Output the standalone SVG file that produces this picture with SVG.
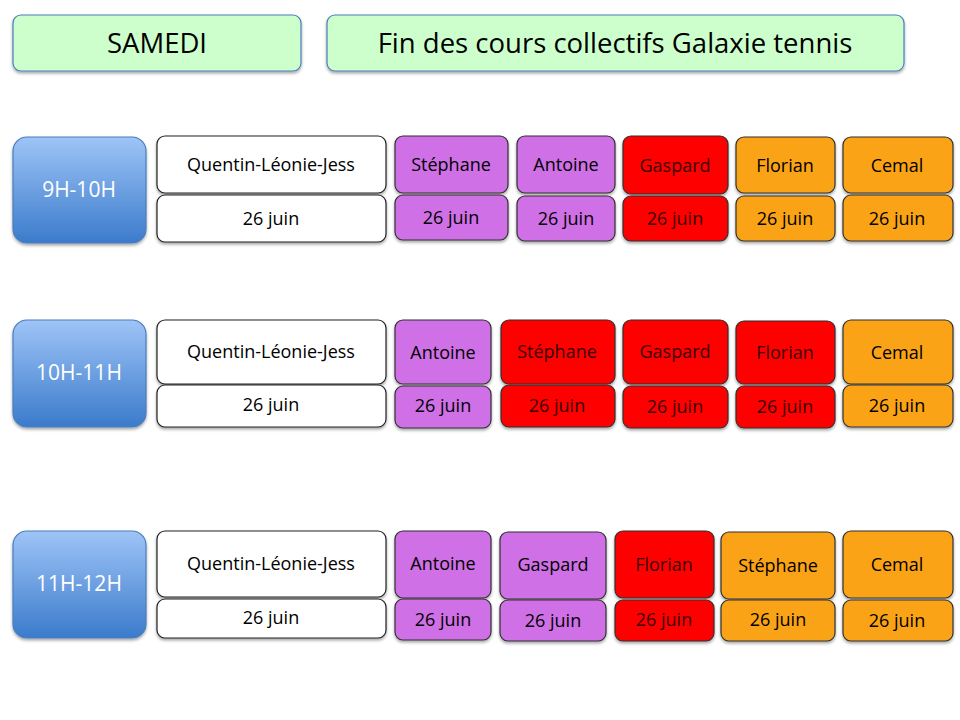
<svg xmlns="http://www.w3.org/2000/svg" width="960" height="720" viewBox="0 0 960 720">
<defs>
<linearGradient id="tg" x1="0" y1="0" x2="0" y2="1">
<stop offset="0" stop-color="#9ec4f7"/>
<stop offset="1" stop-color="#3b7bcb"/>
</linearGradient>
<filter id="sh" x="-10%" y="-10%" width="130%" height="140%">
<feDropShadow dx="0" dy="2" stdDeviation="1.5" flood-color="#000" flood-opacity="0.35"/>
</filter>
</defs>
<style>
rect{filter:url(#sh);stroke-width:1.2}
.hd{fill:#ccffcc;stroke:#4a7ebb}
.tm{fill:url(#tg);stroke:#4a7ebb}
.w{fill:#ffffff;stroke:#222}
.p{fill:#cf6fe6;stroke:#333}
.r{fill:#ff0000;stroke:#333}
.o{fill:#fba313;stroke:#333}
text{font-family:"Open Sans","Liberation Sans",sans-serif;text-anchor:middle;dominant-baseline:central;font-size:18px;fill:#000}
.ht{font-size:27.5px}
.tt{font-size:21px;fill:#fff}
.rt{fill:#3a0000}
</style>
<rect width="960" height="720" fill="#fff" style="filter:none"/>
<g id="samedi"><rect class="hd" x="13" y="15" width="288" height="56" rx="8"/><text class="ht" x="157" y="42">SAMEDI</text></g>
<g id="titre"><rect class="hd" x="327" y="15" width="577" height="56" rx="8"/><text class="ht" x="615" y="42">Fin des cours collectifs Galaxie tennis</text></g>

<g id="t1"><rect class="tm" x="13" y="137" width="133" height="106" rx="14"/><text class="tt" x="79" y="189">9H-10H</text></g>
<g id="r1c1"><rect class="w" x="157" y="136" width="229" height="57" rx="8"/><text x="271" y="164">Quentin-Léonie-Jess</text><rect class="w" x="157" y="195" width="229" height="47" rx="8"/><text x="271" y="218">26 juin</text></g>
<g id="r1c2"><rect class="p" x="395" y="136" width="113" height="57" rx="8"/><text x="451" y="164">Stéphane</text><rect class="p" x="395" y="195" width="113" height="45" rx="8"/><text x="451" y="217">26 juin</text></g>
<g id="r1c3"><rect class="p" x="517" y="136" width="98" height="57" rx="8"/><text x="566" y="164">Antoine</text><rect class="p" x="517" y="196" width="98" height="45" rx="8"/><text x="566" y="218">26 juin</text></g>
<g id="r1c4"><rect class="r" x="623" y="136" width="105" height="58" rx="8"/><text class="rt" x="675" y="165">Gaspard</text><rect class="r" x="623" y="196" width="105" height="45" rx="8"/><text class="rt" x="675" y="218">26 juin</text></g>
<g id="r1c5"><rect class="o" x="736" y="137" width="99" height="56" rx="8"/><text x="785" y="165">Florian</text><rect class="o" x="736" y="196" width="99" height="45" rx="8"/><text x="785" y="218">26 juin</text></g>
<g id="r1c6"><rect class="o" x="843" y="137" width="110" height="56" rx="8"/><text x="897" y="165">Cemal</text><rect class="o" x="843" y="195" width="110" height="46" rx="8"/><text x="897" y="218">26 juin</text></g>

<g id="t2"><rect class="tm" x="13" y="320" width="133" height="107" rx="14"/><text class="tt" x="79" y="372">10H-11H</text></g>
<g id="r2c1"><rect class="w" x="157" y="320" width="229" height="64" rx="8"/><text x="271" y="351">Quentin-Léonie-Jess</text><rect class="w" x="157" y="385" width="229" height="42" rx="8"/><text x="271" y="404">26 juin</text></g>
<g id="r2c2"><rect class="p" x="395" y="320" width="96" height="64" rx="8"/><text x="443" y="352">Antoine</text><rect class="p" x="395" y="386" width="96" height="42" rx="8"/><text x="443" y="405">26 juin</text></g>
<g id="r2c3"><rect class="r" x="501" y="320" width="114" height="64" rx="8"/><text class="rt" x="557" y="351">Stéphane</text><rect class="r" x="501" y="385" width="114" height="42" rx="8"/><text class="rt" x="557" y="405">26 juin</text></g>
<g id="r2c4"><rect class="r" x="623" y="320" width="105" height="64" rx="8"/><text class="rt" x="675" y="351">Gaspard</text><rect class="r" x="623" y="386" width="105" height="42" rx="8"/><text class="rt" x="675" y="406">26 juin</text></g>
<g id="r2c5"><rect class="r" x="736" y="321" width="99" height="63" rx="8"/><text class="rt" x="785" y="352">Florian</text><rect class="r" x="736" y="386" width="99" height="42" rx="8"/><text class="rt" x="785" y="406">26 juin</text></g>
<g id="r2c6"><rect class="o" x="843" y="320" width="110" height="64" rx="8"/><text x="897" y="352">Cemal</text><rect class="o" x="843" y="385" width="110" height="42" rx="8"/><text x="897" y="405">26 juin</text></g>

<g id="t3"><rect class="tm" x="13" y="531" width="133" height="107" rx="14"/><text class="tt" x="79" y="583">11H-12H</text></g>
<g id="r3c1"><rect class="w" x="157" y="531" width="229" height="66" rx="8"/><text x="271" y="563">Quentin-Léonie-Jess</text><rect class="w" x="157" y="599" width="229" height="39" rx="8"/><text x="271" y="617">26 juin</text></g>
<g id="r3c2"><rect class="p" x="395" y="531" width="96" height="67" rx="8"/><text x="443" y="563">Antoine</text><rect class="p" x="395" y="599" width="96" height="41" rx="8"/><text x="443" y="619">26 juin</text></g>
<g id="r3c3"><rect class="p" x="500" y="532" width="106" height="67" rx="8"/><text x="553" y="564">Gaspard</text><rect class="p" x="500" y="600" width="106" height="41" rx="8"/><text x="553" y="620">26 juin</text></g>
<g id="r3c4"><rect class="r" x="615" y="531" width="99" height="67" rx="8"/><text class="rt" x="664" y="564">Florian</text><rect class="r" x="615" y="600" width="99" height="41" rx="8"/><text class="rt" x="664" y="619">26 juin</text></g>
<g id="r3c5"><rect class="o" x="721" y="532" width="114" height="67" rx="8"/><text x="778" y="565">Stéphane</text><rect class="o" x="721" y="600" width="114" height="41" rx="8"/><text x="778" y="619">26 juin</text></g>
<g id="r3c6"><rect class="o" x="843" y="531" width="110" height="67" rx="8"/><text x="897" y="564">Cemal</text><rect class="o" x="843" y="600" width="110" height="41" rx="8"/><text x="897" y="620">26 juin</text></g>
</svg>
